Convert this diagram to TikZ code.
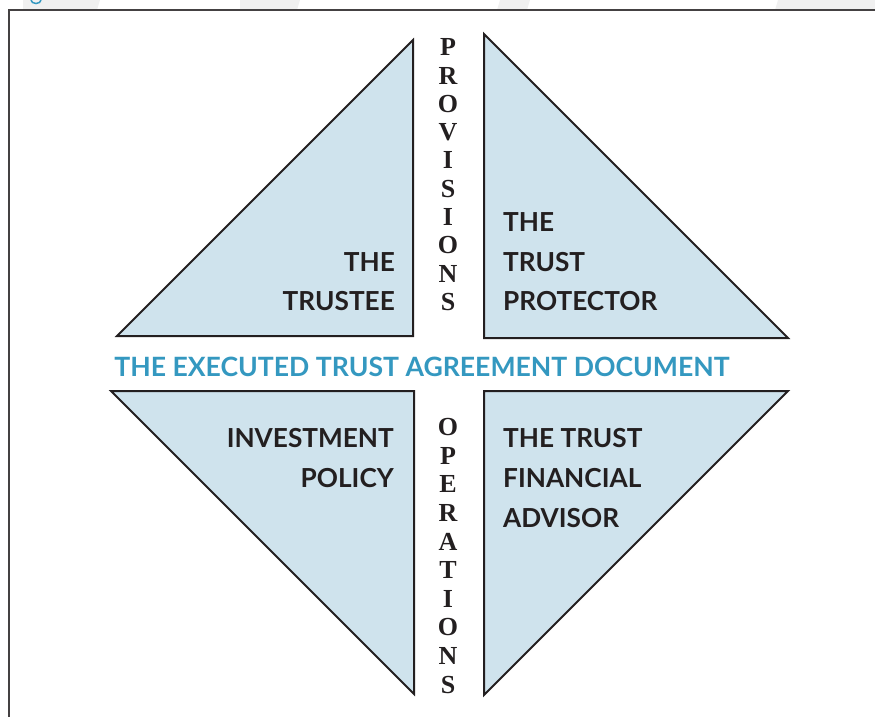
\documentclass[tikz,border=0pt]{standalone}
\usepackage{fontspec}
\newfontfamily\labelfont{Lato}
\newfontfamily\spinefont{Liberation Serif}
\definecolor{panelfill}{RGB}{207,227,237}
\definecolor{panelline}{RGB}{35,31,32}
\definecolor{titleblue}{RGB}{52,152,192}
\definecolor{bandgray}{RGB}{240,240,240}
\begin{document}
\begin{tikzpicture}[x=1pt,y=-1pt,
  panel/.style={fill=panelfill,draw=panelline,line width=2pt,line join=miter},
  lbl/.style={inner sep=0pt,text height=19pt,text depth=0pt,
    font=\labelfont\bfseries\fontsize{26.2}{26.2}\selectfont,text=panelline},
  title/.style={inner sep=0pt,text height=19pt,text depth=0pt,
    font=\labelfont\bfseries\fontsize{26.6}{26.6}\selectfont,text=titleblue},
  spine/.style={inner sep=0pt,text height=17.5pt,text depth=0pt,
    font=\spinefont\bfseries\fontsize{26}{26}\selectfont,text=panelline}]
\useasboundingbox (0,0) rectangle (875,717);
% faint page bands above the frame
\fill[bandgray] (23,0) -- (100,0) -- (97,10) -- (23,10) -- cycle;
\fill[bandgray] (240,0) -- (300,0) -- (297,10) -- (240,10) -- cycle;
\fill[bandgray] (500,0) -- (530,0) -- (527,10) -- (497,10) -- cycle;
\fill[bandgray] (778,0) -- (875,0) -- (875,10) -- (775,10) -- cycle;
\draw[titleblue,line width=1.5pt] (31,0) arc[start angle=180,end angle=360,x radius=5,y radius=-3.5];
% frame
\draw[panelline!85,line width=2pt] (9,717) -- (9,10) -- (875,10);
% four panels
\draw[panel] (413,40) -- (413,336) -- (117,336) -- cycle;
\draw[panel] (484,34) -- (788,338) -- (484,338) -- cycle;
\draw[panel] (111,391) -- (414,391) -- (414,694) -- cycle;
\draw[panel] (484,391) -- (788,391) -- (484,695) -- cycle;
% panel labels
\node[lbl,anchor=east] (t1) at (395,262) {THE};
\node[lbl,anchor=east] (t2) at (395,301) {TRUSTEE};
\node[lbl,anchor=west] (p1) at (503,222) {THE};
\node[lbl,anchor=west] (p2) at (503,262) {TRUST};
\node[lbl,anchor=west] (p3) at (503,301) {PROTECTOR};
\node[lbl,anchor=east] (i1) at (394,438) {INVESTMENT};
\node[lbl,anchor=east] (i2) at (394,478) {POLICY};
\node[lbl,anchor=west] (f1) at (503,438) {THE TRUST};
\node[lbl,anchor=west] (f2) at (503,478) {FINANCIAL};
\node[lbl,anchor=west] (f3) at (503,518) {ADVISOR};
% central title
\node[title] (doc) at (422,367) {THE EXECUTED TRUST AGREEMENT DOCUMENT};
% vertical words
\foreach \ch [count=\i from 0] in {P,R,O,V,I,S,I,O,N,S}
  \node[spine] (pv\i) at (448,47+28.3*\i) {\ch};
\foreach \ch [count=\i from 0] in {O,P,E,R,A,T,I,O,N,S}
  \node[spine] (op\i) at (448,427+28.6*\i) {\ch};
\end{tikzpicture}
\end{document}
